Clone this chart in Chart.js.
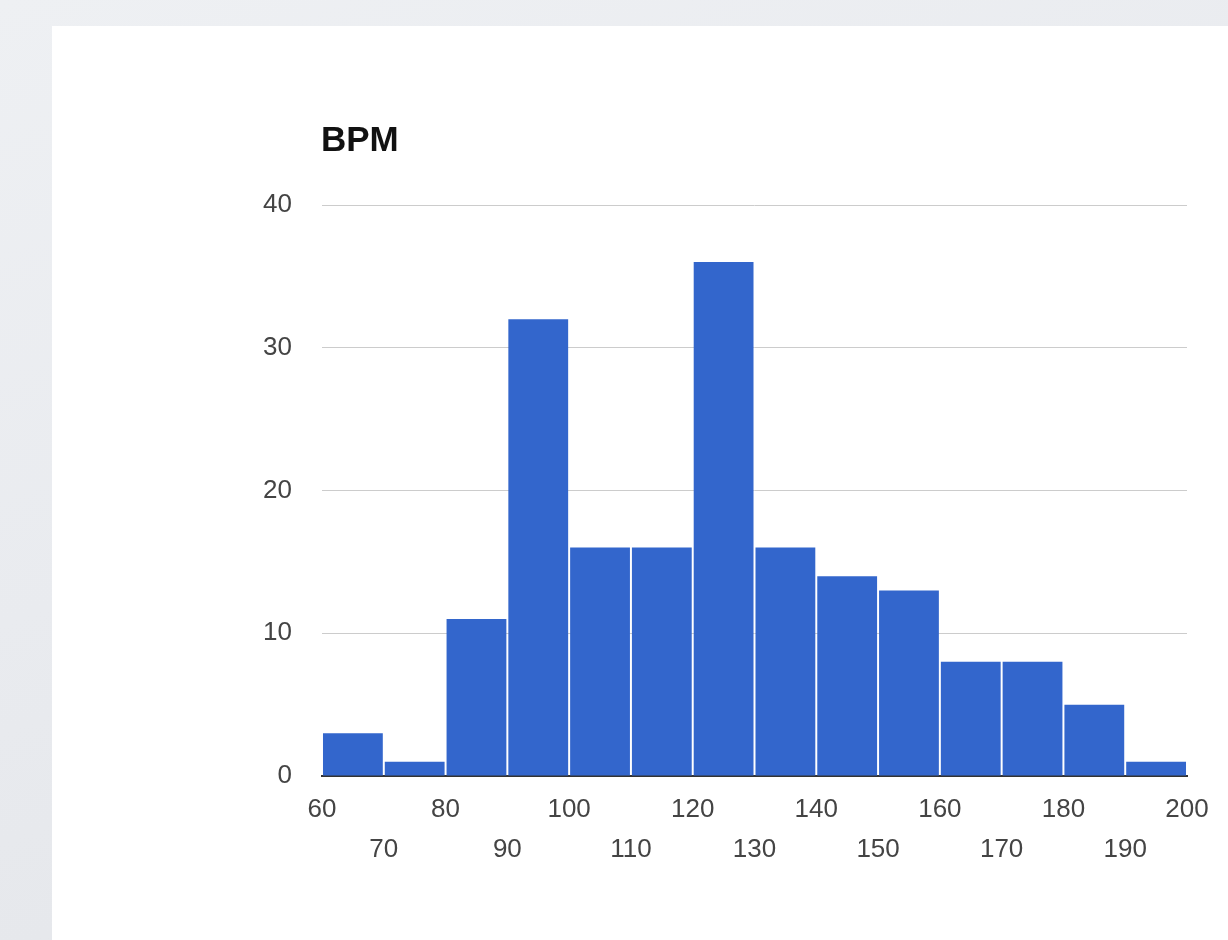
<!DOCTYPE html>
<html>
<head>
<meta charset="utf-8">
<title>BPM</title>
<script src="https://cdn.jsdelivr.net/npm/chart.js@4.4.1/dist/chart.umd.min.js"></script>
<style>
  html, body { margin: 0; padding: 0; }
  body {
    width: 1228px; height: 940px; overflow: hidden;
    background: linear-gradient(160deg, #eef0f3 0%, #e9ebef 45%, #e2e4e8 100%);
    position: relative;
  }
  #panel {
    position: absolute; left: 52px; top: 26px;
    width: 1176px; height: 914px; background: #ffffff;
  }
</style>
</head>
<body>
<div id="panel"><canvas id="chart"></canvas></div>
<script>
// Histogram of beats per minute, 10-BPM bins
const chartTitle = 'BPM';
const binStarts = [60, 70, 80, 90, 100, 110, 120, 130, 140, 150, 160, 170, 180, 190];
const binWidth = 10;
const counts = [3, 1, 11, 32, 16, 16, 36, 16, 14, 13, 8, 8, 5, 1];
const xRange = [60, 200];
const yRange = [0, 40];
const yStep = 10;

const FONT = '"Liberation Sans", Arial, sans-serif';

// Title drawn flush with the plot's left edge
const titlePlugin = {
  id: 'leftTitle',
  afterDraw(chart) {
    const ctx = chart.ctx;
    ctx.save();
    ctx.font = 'bold 35px ' + FONT;
    ctx.fillStyle = '#111111';
    ctx.textAlign = 'left';
    ctx.textBaseline = 'alphabetic';
    ctx.fillText(chartTitle, chart.chartArea.left - 1, 125);
    ctx.restore();
  }
};

new Chart(document.getElementById('chart'), {
  type: 'bar',
  data: {
    datasets: [{
      label: chartTitle,
      data: counts.map((c, i) => ({ x: binStarts[i] + binWidth / 2, y: c })),
      backgroundColor: '#3366cc',
      borderWidth: 0,
      categoryPercentage: 1,
      barPercentage: 0.968
    }]
  },
  options: {
    responsive: true,
    maintainAspectRatio: false,
    animation: false,
    layout: { padding: { left: 0, right: 41, top: 179, bottom: 0 } },
    plugins: {
      legend: { display: false },
      title: { display: false },
      tooltip: { enabled: false }
    },
    scales: {
      x: {
        type: 'linear',
        min: xRange[0],
        max: xRange[1],
        offset: false,
        z: 1,
        grid: { display: false, drawTicks: false },
        border: { display: true, color: '#333333', width: 2 },
        afterFit(scale) { scale.height = 164; },
        ticks: {
          stepSize: binWidth,
          autoSkip: false,
          maxRotation: 0,
          minRotation: 0,
          padding: 14,
          color: '#444444',
          font: { family: FONT, size: 26, lineHeight: 40 / 26 },
          callback(value, index) {
            return index % 2 === 0 ? String(value) : ['', String(value)];
          }
        }
      },
      y: {
        min: yRange[0],
        max: yRange[1],
        grid: {
          drawTicks: false,
          color: (ctx) => ctx.tick && ctx.tick.value === 0 ? 'rgba(0,0,0,0)' : '#cccccc',
          lineWidth: 1
        },
        border: { display: false },
        afterFit(scale) { scale.width = 270; },
        ticks: {
          stepSize: yStep,
          padding: 30,
          color: '#444444',
          font: { family: FONT, size: 26 }
        }
      }
    }
  },
  plugins: [titlePlugin]
});
</script>
</body>
</html>
